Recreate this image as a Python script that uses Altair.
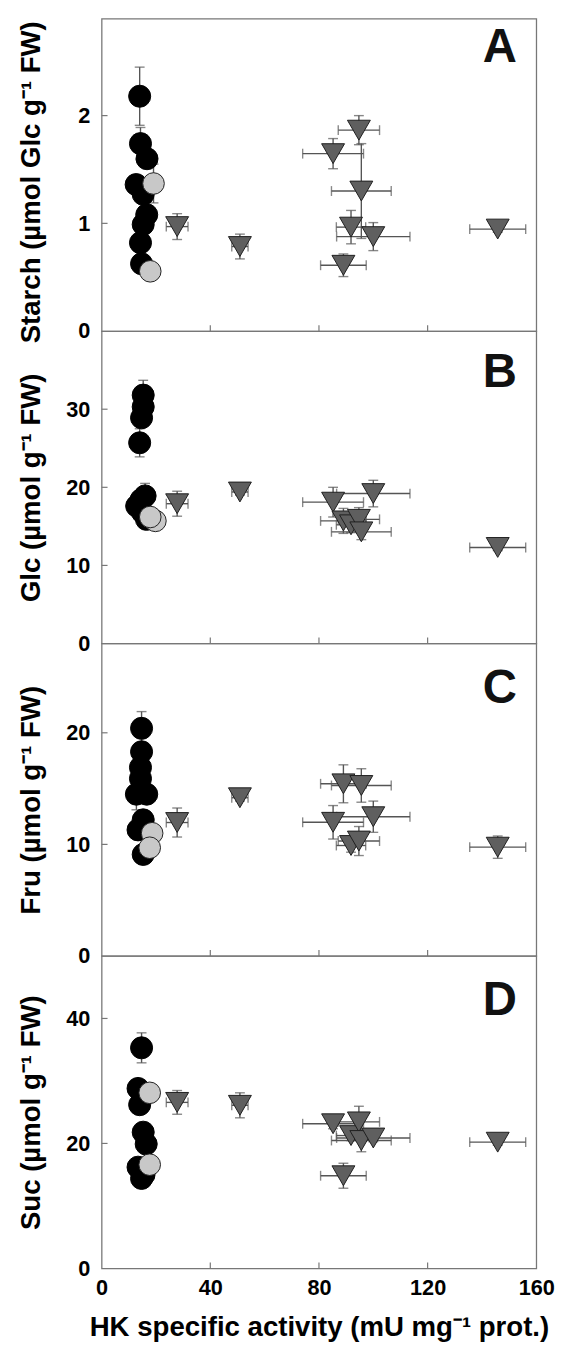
import altair as alt
import pandas as pd

# ---------------- data ----------------
# nine lines shown as triangles: HK specific activity (x) and its SE
TRI_X = [27.8, 50.9, 85.2, 89.0, 91.8, 94.7, 95.6, 100.0, 145.8]
TRI_XERR = [4.0, 3.0, 11.2, 8.4, 5.4, 7.6, 11.0, 13.5, 10.3]

# Panel A: starch
A_BX = [14.0, 14.3, 16.7, 12.7, 15.3, 16.6, 15.3, 14.3, 14.7]
A_BY = [2.18, 1.74, 1.60, 1.36, 1.27, 1.08, 0.99, 0.82, 0.625]
A_BE = [0.27, 0.15, 0, 0, 0, 0, 0, 0, 0]
A_GX = [19.1, 17.9]
A_GY = [1.37, 0.555]
A_GE = [0.18, 0]
A_TY = [0.97, 0.785, 1.647, 0.611, 0.965, 1.865, 1.30, 0.877, 0.947]
A_TE = [0.12, 0.115, 0.14, 0.105, 0.155, 0.135, 0.44, 0.13, 0.03]

# Panel B: glucose
B_BX = [15.3, 15.3, 14.7, 14.0, 16.0, 14.5, 12.9, 15.0, 16.5]
B_BY = [31.8, 30.3, 28.9, 25.7, 18.9, 18.4, 17.6, 16.8, 15.9]
B_BE = [1.9, 0, 0, 1.8, 1.6, 0, 0, 0, 0]
B_GX = [19.8, 17.9]
B_GY = [15.7, 16.2]
B_GE = [0, 0]
B_TY = [17.9, 19.4, 18.1, 15.7, 15.2, 15.9, 14.3, 19.2, 12.3]
B_TE = [1.6, 0.4, 1.9, 1.6, 1.0, 1.5, 1.0, 1.7, 0.4]

# Panel C: fructose
C_BX = [14.7, 14.7, 14.3, 14.3, 12.8, 16.6, 15.3, 13.4, 15.3]
C_BY = [20.4, 18.3, 16.9, 15.9, 14.5, 14.5, 12.2, 11.3, 9.1]
C_BE = [1.5, 0, 0, 0, 1.4, 0, 0, 0, 0]
C_GX = [18.6, 17.7]
C_GY = [11.0, 9.7]
C_GE = [0, 0]
C_TY = [11.96, 14.18, 11.98, 15.43, 9.9, 10.3, 15.28, 12.48, 9.75]
C_TE = [1.3, 0.3, 1.5, 1.7, 0.6, 1.3, 1.5, 1.4, 1.0]

# Panel D: sucrose
D_BX = [14.7, 13.4, 14.0, 15.3, 16.4, 13.4, 15.6, 14.7]
D_BY = [35.3, 28.8, 26.2, 21.8, 19.9, 16.2, 15.0, 14.4]
D_BE = [2.4, 0, 0, 0, 0, 0, 0, 0]
D_GX = [17.7, 17.7]
D_GY = [28.1, 16.6]
D_GE = [0, 0]
D_TY = [26.57, 26.1, 23.15, 14.83, 21.26, 23.45, 20.47, 20.87, 20.2]
D_TE = [1.9, 2.0, 0.8, 2.0, 0.8, 2.5, 1.8, 0.6, 0.5]

X_TICKS = [0, 40, 80, 120, 160]
X_TITLE = "HK specific activity (mU mg\u207b\u00b9 prot.)"

PANELS = [
    dict(letter="A", title="Starch (\u00b5mol Glc g\u207b\u00b9 FW)", top=2.9, ticks=[0, 1, 2],
         bx=A_BX, by=A_BY, be=A_BE, gx=A_GX, gy=A_GY, ge=A_GE, ty=A_TY, te=A_TE, ly=44, tshift=7),
    dict(letter="B", title="Glc (\u00b5mol g\u207b\u00b9 FW)", top=40, ticks=[0, 10, 20, 30],
         bx=B_BX, by=B_BY, be=B_BE, gx=B_GX, gy=B_GY, ge=B_GE, ty=B_TY, te=B_TE, ly=57, tshift=0),
    dict(letter="C", title="Fru (\u00b5mol g\u207b\u00b9 FW)", top=28, ticks=[0, 10, 20],
         bx=C_BX, by=C_BY, be=C_BE, gx=C_GX, gy=C_GY, ge=C_GE, ty=C_TY, te=C_TE, ly=60, tshift=0),
    dict(letter="D", title="Suc (\u00b5mol g\u207b\u00b9 FW)", top=50, ticks=[0, 20, 40],
         bx=D_BX, by=D_BY, be=D_BE, gx=D_GX, gy=D_GY, ge=D_GE, ty=D_TY, te=D_TE, ly=60, tshift=0),
]

# ---------------- styling ----------------
W, H = 441, 317
FONT = "Liberation Sans"
EC = "#555555"
BORDER = "#777777"


def make_df(p):
    rows = []
    for x, y, e in zip(p["bx"], p["by"], p["be"]):
        rows.append(dict(kind="black", x=x, y=y, xerr=0.0, yerr=e))
    for x, y, e in zip(p["gx"], p["gy"], p["ge"]):
        rows.append(dict(kind="gray", x=x, y=y, xerr=0.0, yerr=e))
    for x, xe, y, e in zip(TRI_X, TRI_XERR, p["ty"], p["te"]):
        rows.append(dict(kind="tri", x=x, y=y, xerr=xe, yerr=e))
    df = pd.DataFrame(rows)
    df["xlo"] = df["x"] - df["xerr"]
    df["xhi"] = df["x"] + df["xerr"]
    df["ylo"] = df["y"] - df["yerr"]
    df["yhi"] = df["y"] + df["yerr"]
    return df


def panel(p, last):
    df = make_df(p)
    xs = alt.Scale(domain=[0, 160], nice=False, zero=False)
    ys = alt.Scale(domain=[0, p["top"]], nice=False, zero=False)

    if last:
        xaxis = alt.Axis(values=X_TICKS, title=X_TITLE, labelFontSize=22, labelFontWeight="bold",
                         labelFont=FONT, labelColor="black", labelFlush=False, labelPadding=9,
                         ticks=False, domain=False, grid=False, titleFont=FONT, titleFontSize=28,
                         titleFontWeight="bold", titleColor="black", titlePadding=16)
    else:
        xaxis = None
    yaxis = alt.Axis(values=p["ticks"], title=p["title"], labelFontSize=22, labelFontWeight="bold",
                     labelFont=FONT, labelColor="black", labelPadding=12, ticks=False, domain=False,
                     grid=False, titleFont=FONT, titleFontSize=28, titleFontWeight="bold",
                     titleColor="black", titleX=-63, titleY=H / 2 + p["tshift"],
                     titleBaseline="alphabetic", titleAlign="center", titleAngle=270)

    def X(f):
        return alt.X(f, type="quantitative", scale=xs, axis=xaxis)

    def Y(f):
        return alt.Y(f, type="quantitative", scale=ys, axis=yaxis)

    base = alt.Chart(df)
    yerr = base.transform_filter("datum.yerr > 0")
    xerr = base.transform_filter("datum.xerr > 0")

    layers = [
        yerr.mark_rule(color=EC, strokeWidth=1.4).encode(x=X("x"), y=Y("ylo"), y2="yhi"),
        yerr.mark_tick(orient="horizontal", color=EC, size=10, thickness=1.4).encode(x=X("x"), y=Y("yhi")),
        yerr.mark_tick(orient="horizontal", color=EC, size=10, thickness=1.4).encode(x=X("x"), y=Y("ylo")),
        xerr.mark_rule(color=EC, strokeWidth=1.4).encode(x=X("xlo"), x2="xhi", y=Y("y")),
        xerr.mark_tick(orient="vertical", color=EC, size=10, thickness=1.4).encode(x=X("xlo"), y=Y("y")),
        xerr.mark_tick(orient="vertical", color=EC, size=10, thickness=1.4).encode(x=X("xhi"), y=Y("y")),
        base.transform_filter("datum.kind == 'black'").mark_point(
            shape="circle", filled=True, size=500, fill="black", stroke="black", strokeWidth=1, opacity=1
        ).encode(x=X("x"), y=Y("y")),
        base.transform_filter("datum.kind == 'gray'").mark_point(
            shape="circle", filled=True, size=480, fill="#c8c8c8", stroke="#222222", strokeWidth=1, opacity=1
        ).encode(x=X("x"), y=Y("y")),
        base.transform_filter("datum.kind == 'tri'").mark_point(
            shape="triangle-down", filled=True, size=540, fill="#5f5f5f", stroke="#1e1e1e", strokeWidth=1, opacity=1
        ).encode(x=X("x"), y=Y("y")),
        # inward tick marks
        alt.Chart(pd.DataFrame({"x": X_TICKS[1:-1]})).mark_rule(color=BORDER, strokeWidth=1.2).encode(
            x=X("x"), y=alt.value(H), y2=alt.value(H - 6)),
        alt.Chart(pd.DataFrame({"y": p["ticks"][1:]})).mark_rule(color=BORDER, strokeWidth=1.2).encode(
            y=Y("y"), x=alt.value(0), x2=alt.value(6)),
        # panel letter
        alt.Chart(pd.DataFrame({"t": [p["letter"]]})).mark_text(
            font=FONT, fontSize=48, fontWeight="bold", align="center", baseline="alphabetic", color="#111111"
        ).encode(text="t:N", x=alt.value(404), y=alt.value(p["ly"])),
    ]
    return alt.layer(*layers).properties(width=W, height=H)


charts = [panel(p, i == len(PANELS) - 1) for i, p in enumerate(PANELS)]

chart = alt.vconcat(*charts, spacing=0, bounds="flush").properties(
    padding={"left": 9, "top": 0, "right": 0, "bottom": 0}
).configure_view(stroke=BORDER, strokeWidth=1.3)

chart.save("out.html", embed_options={"renderer": "svg", "actions": False})
